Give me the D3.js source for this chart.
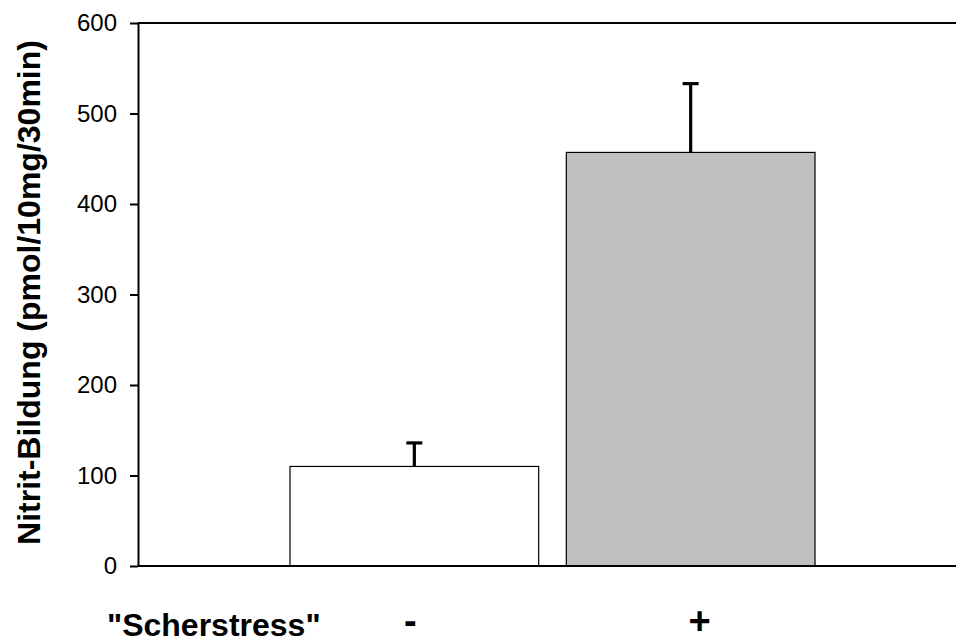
<!DOCTYPE html>
<html>
<head>
<meta charset="utf-8">
<script src="https://cdnjs.cloudflare.com/ajax/libs/d3/7.8.5/d3.min.js"></script>
<style>
  body { margin: 0; background: #fff; }
  text { font-family: "Liberation Sans", Arial, sans-serif; }
</style>
</head>
<body>
<div id="chart-area"></div>
<script>
const categories = ["-", "+"];
const means = [110, 457];
const errors = [26, 76];
const barColors = ["#ffffff", "#c0c0c0"];
const yTicks = [0, 100, 200, 300, 400, 500, 600];

const svgWidth = 956;
const svgHeight = 644;
const margin = { top: 23, right: 0, bottom: 78, left: 138 };
const height = svgHeight - margin.top - margin.bottom;

const svg = d3.select("#chart-area")
              .append("svg")
              .attr("width", svgWidth)
              .attr("height", svgHeight);

const g = svg.append("g")
             .attr("transform", `translate(${margin.left}, ${margin.top})`);

const x = d3.scaleBand()
            .domain(categories)
            .range([0, 829])
            .paddingInner(0.1)
            .paddingOuter(0.55);

const y = d3.scaleLinear()
            .domain([0, 600])
            .range([height, 0]);

// bars
g.selectAll("rect.bar")
 .data(categories)
 .enter()
 .append("rect")
   .attr("class", "bar")
   .attr("x", d => x(d))
   .attr("y", (d, i) => y(means[i]))
   .attr("width", x.bandwidth())
   .attr("height", (d, i) => height - y(means[i]))
   .attr("fill", (d, i) => barColors[i])
   .attr("stroke", "#000")
   .attr("stroke-width", 1.2);

// error bars (upper only)
const cx = d => x(d) + x.bandwidth() / 2;
g.selectAll("line.err")
 .data(categories)
 .enter()
 .append("line")
   .attr("class", "err")
   .attr("x1", cx).attr("x2", cx)
   .attr("y1", (d, i) => y(means[i]))
   .attr("y2", (d, i) => y(means[i] + errors[i]))
   .attr("stroke", "#000")
   .attr("stroke-width", 3.2);

g.selectAll("line.cap")
 .data(categories)
 .enter()
 .append("line")
   .attr("class", "cap")
   .attr("x1", d => cx(d) - 8).attr("x2", d => cx(d) + 8)
   .attr("y1", (d, i) => y(means[i] + errors[i]))
   .attr("y2", (d, i) => y(means[i] + errors[i]))
   .attr("stroke", "#000")
   .attr("stroke-width", 3.2);

// top and bottom frame lines
g.append("line")
 .attr("x1", 0).attr("x2", svgWidth - margin.left)
 .attr("y1", y(600)).attr("y2", y(600))
 .attr("stroke", "#000").attr("stroke-width", 2);

g.append("line")
 .attr("x1", 0).attr("x2", svgWidth - margin.left)
 .attr("y1", y(0)).attr("y2", y(0))
 .attr("stroke", "#000").attr("stroke-width", 2);

// y axis
const yAxisCall = d3.axisLeft(y)
                    .tickValues(yTicks)
                    .tickSize(8)
                    .tickPadding(13)
                    .tickSizeOuter(0);

const yAxis = g.append("g")
               .attr("class", "y-axis")
               .call(yAxisCall);
yAxis.select(".domain").attr("stroke-width", 2);
yAxis.selectAll(".tick line").attr("stroke-width", 2);
yAxis.selectAll(".tick text")
     .attr("font-size", 24)
     .attr("font-family", "Liberation Sans, Arial, sans-serif")
     .attr("fill", "#000");

// y label
g.append("text")
 .attr("class", "y-label")
 .attr("text-anchor", "middle")
 .attr("transform", "rotate(-90)")
 .attr("x", -y(300) + 2)
 .attr("y", -98)
 .attr("font-size", 32)
 .attr("font-weight", "bold")
 .text("Nitrit-Bildung (pmol/10mg/30min)");

// category labels
g.selectAll("text.cat")
 .data(categories)
 .enter()
 .append("text")
   .attr("class", "cat")
   .attr("x", (d, i) => cx(d) + (i === 0 ? -4 : 9))
   .attr("y", height + 68)
   .attr("text-anchor", "middle")
   .attr("font-size", 38)
   .attr("font-weight", "bold")
   .text(d => d);

g.append("text")
 .attr("x", -31)
 .attr("y", height + 70)
 .attr("font-size", 32)
 .attr("font-weight", "bold")
 .text("\"Scherstress\"");
</script>
</body>
</html>
